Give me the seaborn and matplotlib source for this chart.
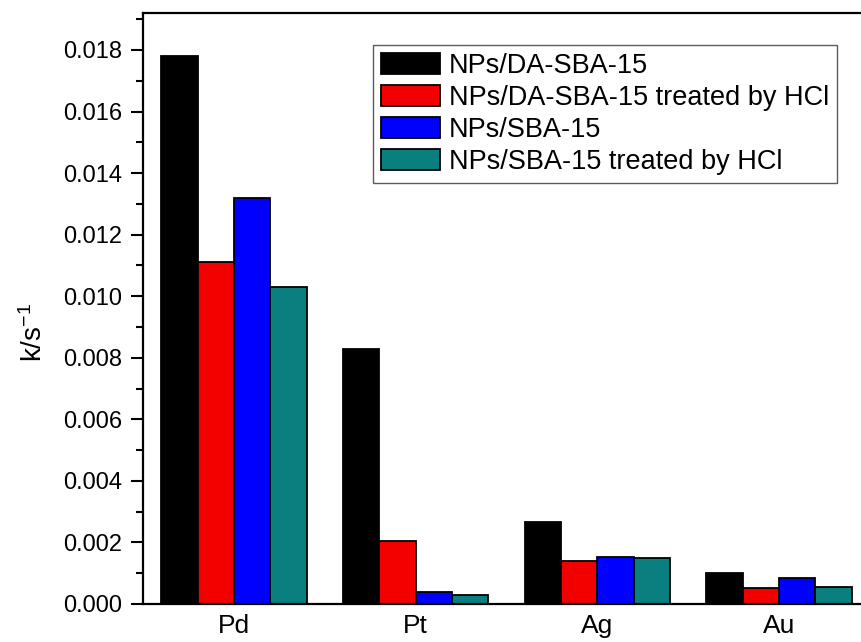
import matplotlib
matplotlib.use("Agg")
import matplotlib.pyplot as plt
import seaborn as sns
import pandas as pd
from matplotlib.ticker import MultipleLocator

metals = ["Pd", "Pt", "Ag", "Au"]
series = ["NPs/DA-SBA-15", "NPs/DA-SBA-15 treated by HCl",
          "NPs/SBA-15", "NPs/SBA-15 treated by HCl"]
da_sba = [0.0178, 0.0083, 0.00265, 0.00101]
da_sba_hcl = [0.0111, 0.00205, 0.0014, 0.00053]
sba = [0.0132, 0.0004, 0.00153, 0.00086]
sba_hcl = [0.0103, 0.0003, 0.00149, 0.00054]
colors = ["#000000", "#F20000", "#0000FF", "#0A7F7F"]

rows = []
for s, vals in zip(series, [da_sba, da_sba_hcl, sba, sba_hcl]):
    for m, v in zip(metals, vals):
        rows.append({"metal": m, "series": s, "k": v})
df = pd.DataFrame(rows)

sns.set_style("ticks")
plt.rcParams['font.family'] = ['Liberation Sans', 'DejaVu Sans']
plt.rcParams['mathtext.default'] = 'regular'
plt.rcParams['text.color'] = 'black'
plt.rcParams['axes.labelcolor'] = 'black'
plt.rcParams['xtick.color'] = 'black'
plt.rcParams['ytick.color'] = 'black'

fig = plt.figure(figsize=(8.61, 6.42), dpi=100)
ax = fig.add_axes([143/861, 38/642, 727/861, 591/642])

sns.barplot(data=df, x="metal", y="k", hue="series", hue_order=series,
            order=metals, palette=colors, width=0.8, edgecolor="black",
            linewidth=1.3, saturation=1, ax=ax, legend=True)

ax.set_xlim(-0.5, 3.5)
ax.set_ylim(0, 0.0192)
ax.yaxis.set_major_locator(MultipleLocator(0.002))
ax.yaxis.set_minor_locator(MultipleLocator(0.001))
ax.set_yticklabels([f"{t:.3f}" for t in ax.get_yticks()])
ax.tick_params(axis="y", which="major", length=9, width=1.5, labelsize=17, direction="out", pad=6)
ax.tick_params(axis="y", which="minor", length=5, width=1.5, direction="out")
ax.tick_params(axis="x", length=0, labelsize=19, pad=7)
ax.set_xlabel("")
ax.set_ylabel("k/s$^{-1}$", fontsize=20)
ax.yaxis.set_label_coords(-0.131, 0.4585)
for sp in ax.spines.values():
    sp.set_linewidth(1.6)
    sp.set_color("black")

leg = ax.legend(loc="upper left", bbox_to_anchor=(0.316, 0.946), borderaxespad=0,
                fontsize=19.5, frameon=True, fancybox=False, edgecolor="#333333",
                handlelength=2.2, handleheight=0.8, labelspacing=0.22,
                handletextpad=0.3, borderpad=0.3)
leg.get_frame().set_linewidth(1.0)

fig.savefig("out.png", dpi=100)
